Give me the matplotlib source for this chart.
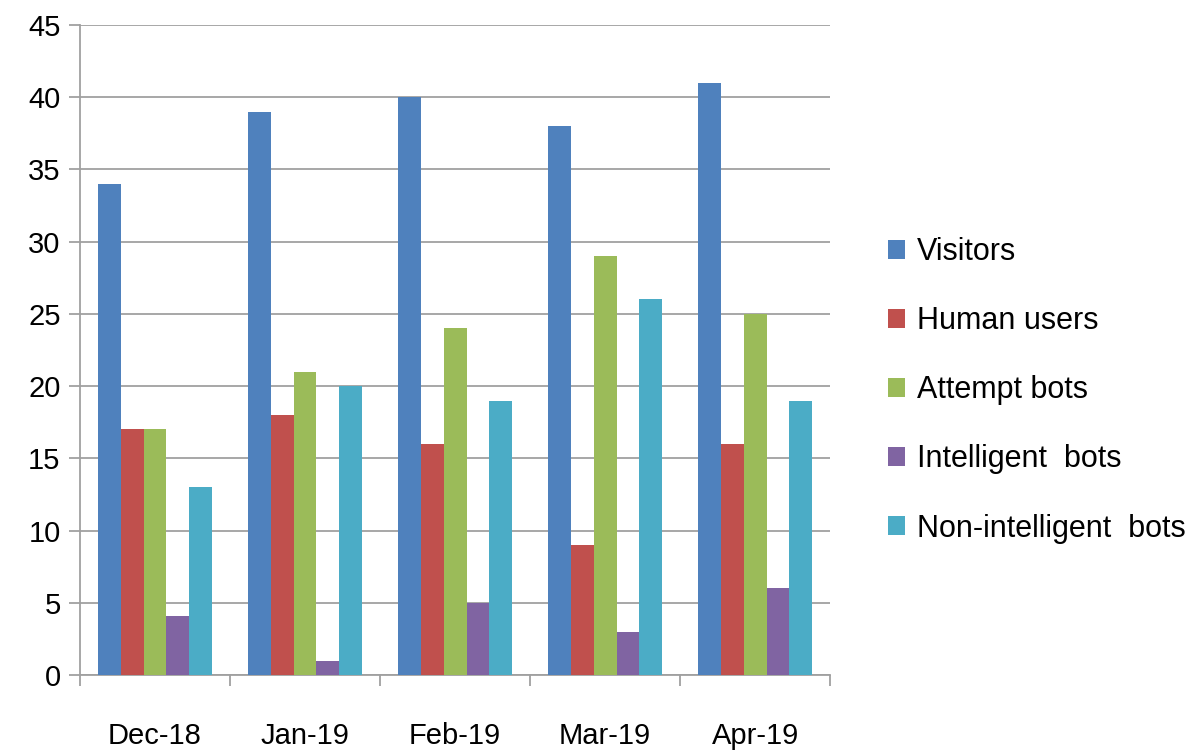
import matplotlib
matplotlib.use("Agg")
import matplotlib.pyplot as plt
import numpy as np

# monthly counts per group
months = ["Dec-18", "Jan-19", "Feb-19", "Mar-19", "Apr-19"]
visitors = [34, 39, 40, 38, 41]
human_users = [17, 18, 16, 9, 16]
attempt_bots = [17, 21, 24, 29, 25]
intelligent_bots = [4.1, 1, 5, 3, 6]
non_intelligent_bots = [13, 20, 19, 26, 19]

series = [visitors, human_users, attempt_bots, intelligent_bots, non_intelligent_bots]
names = ["Visitors", "Human users", "Attempt bots", "Intelligent  bots", "Non-intelligent  bots"]
colors = ["#4F81BD", "#C0504D", "#9BBB59", "#8064A2", "#4BACC6"]

plt.rcParams['font.family'] = ['Liberation Sans', 'DejaVu Sans']

fig = plt.figure(figsize=(12.03, 7.53), dpi=100)
ax = fig.add_axes([0.0665, 0.1036, 0.6235, 0.8632])

x = np.arange(len(months))
w = 0.153
for i, (vals, name, c) in enumerate(zip(series, names, colors)):
    ax.bar(x + (i - 2) * w, vals, w, color=c, label=name, zorder=3)

ax.set_xlim(-0.5, len(months) - 0.5)
ax.set_ylim(0, 45)
ax.set_yticks(range(0, 46, 5))
ax.yaxis.grid(True, color="#A0A0A0", linewidth=1.3, zorder=0)

ax.set_xticks(x)
ax.set_xticklabels(months)
ax.set_xticks(np.arange(-0.5, len(months)), minor=True)
ax.tick_params(axis="x", which="major", length=0, pad=34, labelsize=21)
ax.tick_params(axis="x", which="minor", length=8, width=1.3, color="#A0A0A0")
ax.tick_params(axis="y", length=8, width=1.3, color="#A0A0A0", labelsize=21, pad=6)

for s in ["top", "right"]:
    ax.spines[s].set_visible(False)
for s in ["left", "bottom"]:
    ax.spines[s].set_color("#A0A0A0")
    ax.spines[s].set_linewidth(1.3)

ax.legend(loc="center left", bbox_to_anchor=(1.077, 0.438), frameon=False,
          fontsize=22, handlelength=0.56, handleheight=0.56, handletextpad=0.4,
          labelspacing=1.28, borderpad=0, borderaxespad=0)

fig.savefig("out.png", dpi=100)
